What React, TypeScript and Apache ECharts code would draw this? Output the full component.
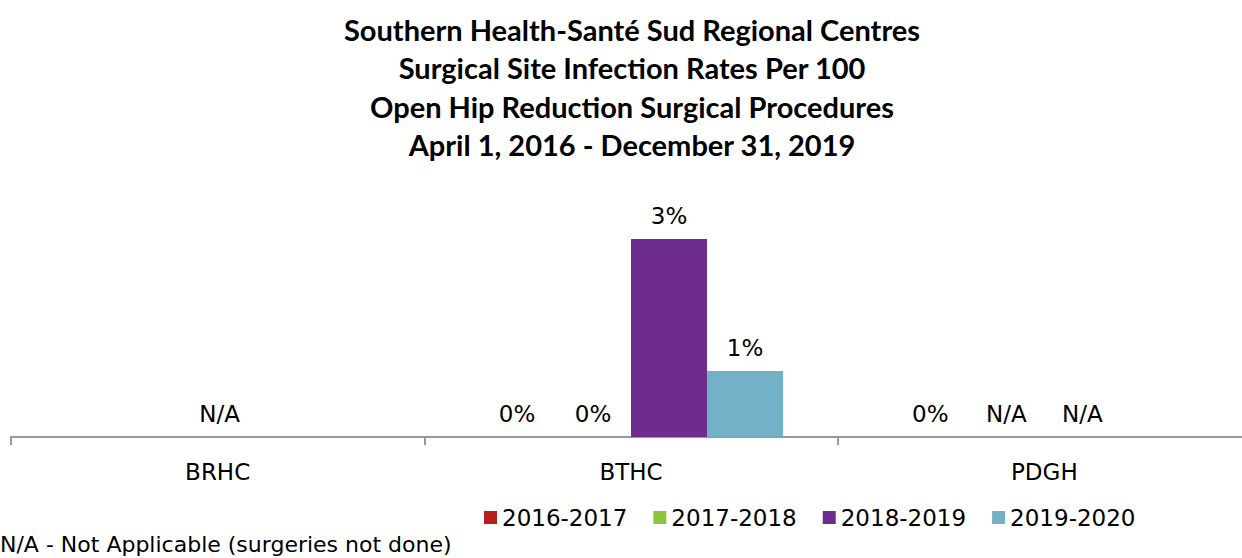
import React, { useEffect, useRef } from "react";
import * as echarts from "echarts";

const titleLines = [
  "Southern Health-Santé Sud Regional Centres",
  "Surgical Site Infection Rates Per 100",
  "Open Hip Reduction Surgical Procedures",
  "April 1, 2016 - December 31, 2019",
];
const categories = ["BRHC", "BTHC", "PDGH"];
const seriesNames = ["2016-2017", "2017-2018", "2018-2019", "2019-2020"];
const seriesColors = ["#B5211B", "#8CC63E", "#6E2C8E", "#72B1C8"];
// values in % ; "N/A" = not applicable ; null = no label
const s20162017: (number | string | null)[] = [null, 0, 0];
const s20172018: (number | string | null)[] = ["N/A", 0, "N/A"];
const s20182019: (number | string | null)[] = [null, 3, "N/A"];
const s20192020: (number | string | null)[] = [null, 1, null];
const footnote = "N/A - Not Applicable (surgeries not done)";

const FONT = "DejaVu Sans";

export default function App() {
  const ref = useRef<HTMLDivElement>(null);
  useEffect(() => {
    if (!ref.current) return;
    const chart = echarts.init(ref.current, undefined, { renderer: "svg" });
    const all = [s20162017, s20172018, s20182019, s20192020];
    const series = all.map((arr, si) => ({
      name: seriesNames[si],
      type: "bar",
      barWidth: 76,
      barGap: "0%",
      itemStyle: { color: seriesColors[si] },
      label: {
        show: true,
        position: "top",
        distance: 12,
        fontFamily: FONT,
        fontSize: 23,
        color: "#000",
        formatter: (p: any) => `${p.value}%`,
      },
      data: arr.map((v, ci) => {
        if (v === null) return { value: null, label: { show: false } };
        if (v === "N/A")
          return {
            value: 0,
            label: {
              show: true,
              formatter: "N/A",
              offset: ci === 0 ? [40, 0] : [0, 0],
            },
          };
        return { value: v };
      }),
    }));
    chart.setOption({
      animation: false,
      title: {
        text: titleLines.join("\n"),
        left: 632,
        textAlign: "center",
        top: 10,
        padding: 0,
        textStyle: {
          fontFamily: "Lato",
          fontWeight: "bold",
          fontSize: 29,
          lineHeight: 38.5,
          color: "#000",
        },
      },
      legend: {
        data: seriesNames,
        left: 484,
        top: 506,
        padding: 0,
        icon: "rect",
        itemWidth: 13,
        itemHeight: 13,
        itemGap: 26,
        textStyle: { fontFamily: FONT, fontSize: 23, color: "#000" },
      },
      grid: { left: 11, width: 1240, top: 206, height: 231 },
      xAxis: {
        type: "category",
        data: categories,
        axisLine: { lineStyle: { color: "#999", width: 2 } },
        axisTick: { show: true, length: 8, lineStyle: { color: "#999", width: 2 } },
        axisLabel: { fontFamily: FONT, fontSize: 23, color: "#000", margin: 23 },
      },
      yAxis: {
        type: "value",
        min: 0,
        max: 3.5,
        show: false,
        splitLine: { show: false },
      },
      graphic: [
        {
          type: "text",
          left: 0,
          top: 533,
          style: { text: footnote, fontFamily: FONT, fontSize: 22, fill: "#000" },
        },
      ],
      series,
    });
    return () => chart.dispose();
  }, []);
  return (
    <div
      style={{ position: "absolute", left: 0, top: 0, width: 1242, height: 558, overflow: "hidden", background: "#fff" }}
    >
      <div ref={ref} style={{ width: 1270, height: 558 }} />
    </div>
  );
}
